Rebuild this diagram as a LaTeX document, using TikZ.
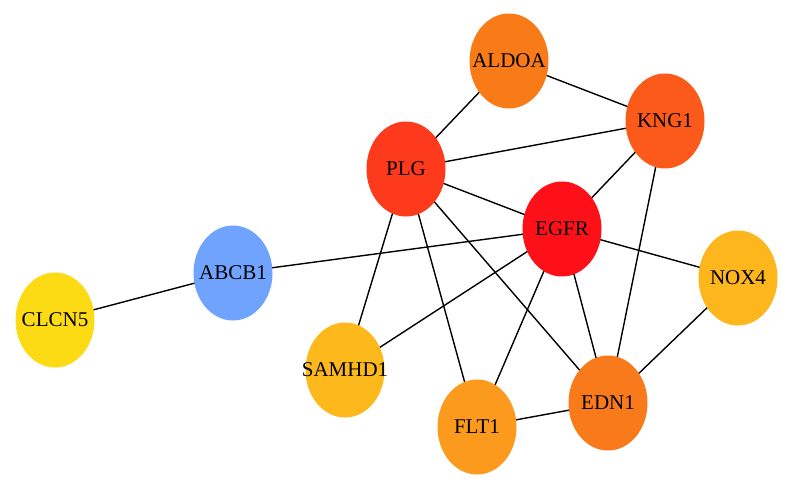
\documentclass[tikz,border=0pt]{standalone}
\usepackage{fontspec}
\setmainfont{Liberation Serif}
\usetikzlibrary{shapes.geometric}
\pgfdeclarelayer{bg}
\pgfsetlayers{bg,main}
\definecolor{cAldoa}{RGB}{249,123,24}
\definecolor{cKng}{RGB}{252,90,26}
\definecolor{cPlg}{RGB}{253,58,28}
\definecolor{cEgfr}{RGB}{254,16,25}
\definecolor{cAbcb}{RGB}{111,163,253}
\definecolor{cClcn}{RGB}{253,219,20}
\definecolor{cNox}{RGB}{253,182,28}
\definecolor{cSam}{RGB}{253,184,28}
\definecolor{cFlt}{RGB}{251,154,28}
\definecolor{cEdn}{RGB}{249,122,27}
\newcommand{\gtxt}[1]{\makebox[0pt]{#1}}
\tikzset{
  gene/.style={ellipse, minimum width=79pt, minimum height=95pt, inner sep=0pt,
    font=\fontsize{21}{24}\selectfont, text=black},
  edge/.style={draw=black, line width=1.4pt}
}
\begin{document}
\begin{tikzpicture}[x=1pt,y=-1pt]
\useasboundingbox (0,0) rectangle (792,489);
\node[gene, fill=cAldoa] (aldoa) at (509,61) {\gtxt{ALDOA}};
\node[gene, fill=cKng] (kng1) at (665,121) {\gtxt{KNG1}};
\node[gene, fill=cPlg] (plg) at (406,169) {\gtxt{PLG}};
\node[gene, fill=cEgfr] (egfr) at (562,229) {\gtxt{EGFR}};
\node[gene, fill=cAbcb] (abcb1) at (233,273) {\gtxt{ABCB1}};
\node[gene, fill=cClcn] (clcn5) at (55,320) {\gtxt{CLCN5}};
\node[gene, fill=cNox] (nox4) at (738,278) {\gtxt{NOX4}};
\node[gene, fill=cSam] (samhd1) at (345,370) {\gtxt{SAMHD1}};
\node[gene, fill=cFlt] (flt1) at (477,427) {\gtxt{FLT1}};
\node[gene, fill=cEdn] (edn1) at (608,403) {\gtxt{EDN1}};
\begin{pgfonlayer}{bg}
\foreach \a/\b in {aldoa/plg, aldoa/kng1, plg/kng1, kng1/egfr, kng1/edn1,
  plg/egfr, plg/samhd1, plg/flt1, plg/edn1, egfr/abcb1, abcb1/clcn5,
  egfr/nox4, egfr/samhd1, egfr/flt1, egfr/edn1, nox4/edn1, flt1/edn1}
  \draw[edge] (\a.center) -- (\b.center);
\end{pgfonlayer}
\end{tikzpicture}
\end{document}
